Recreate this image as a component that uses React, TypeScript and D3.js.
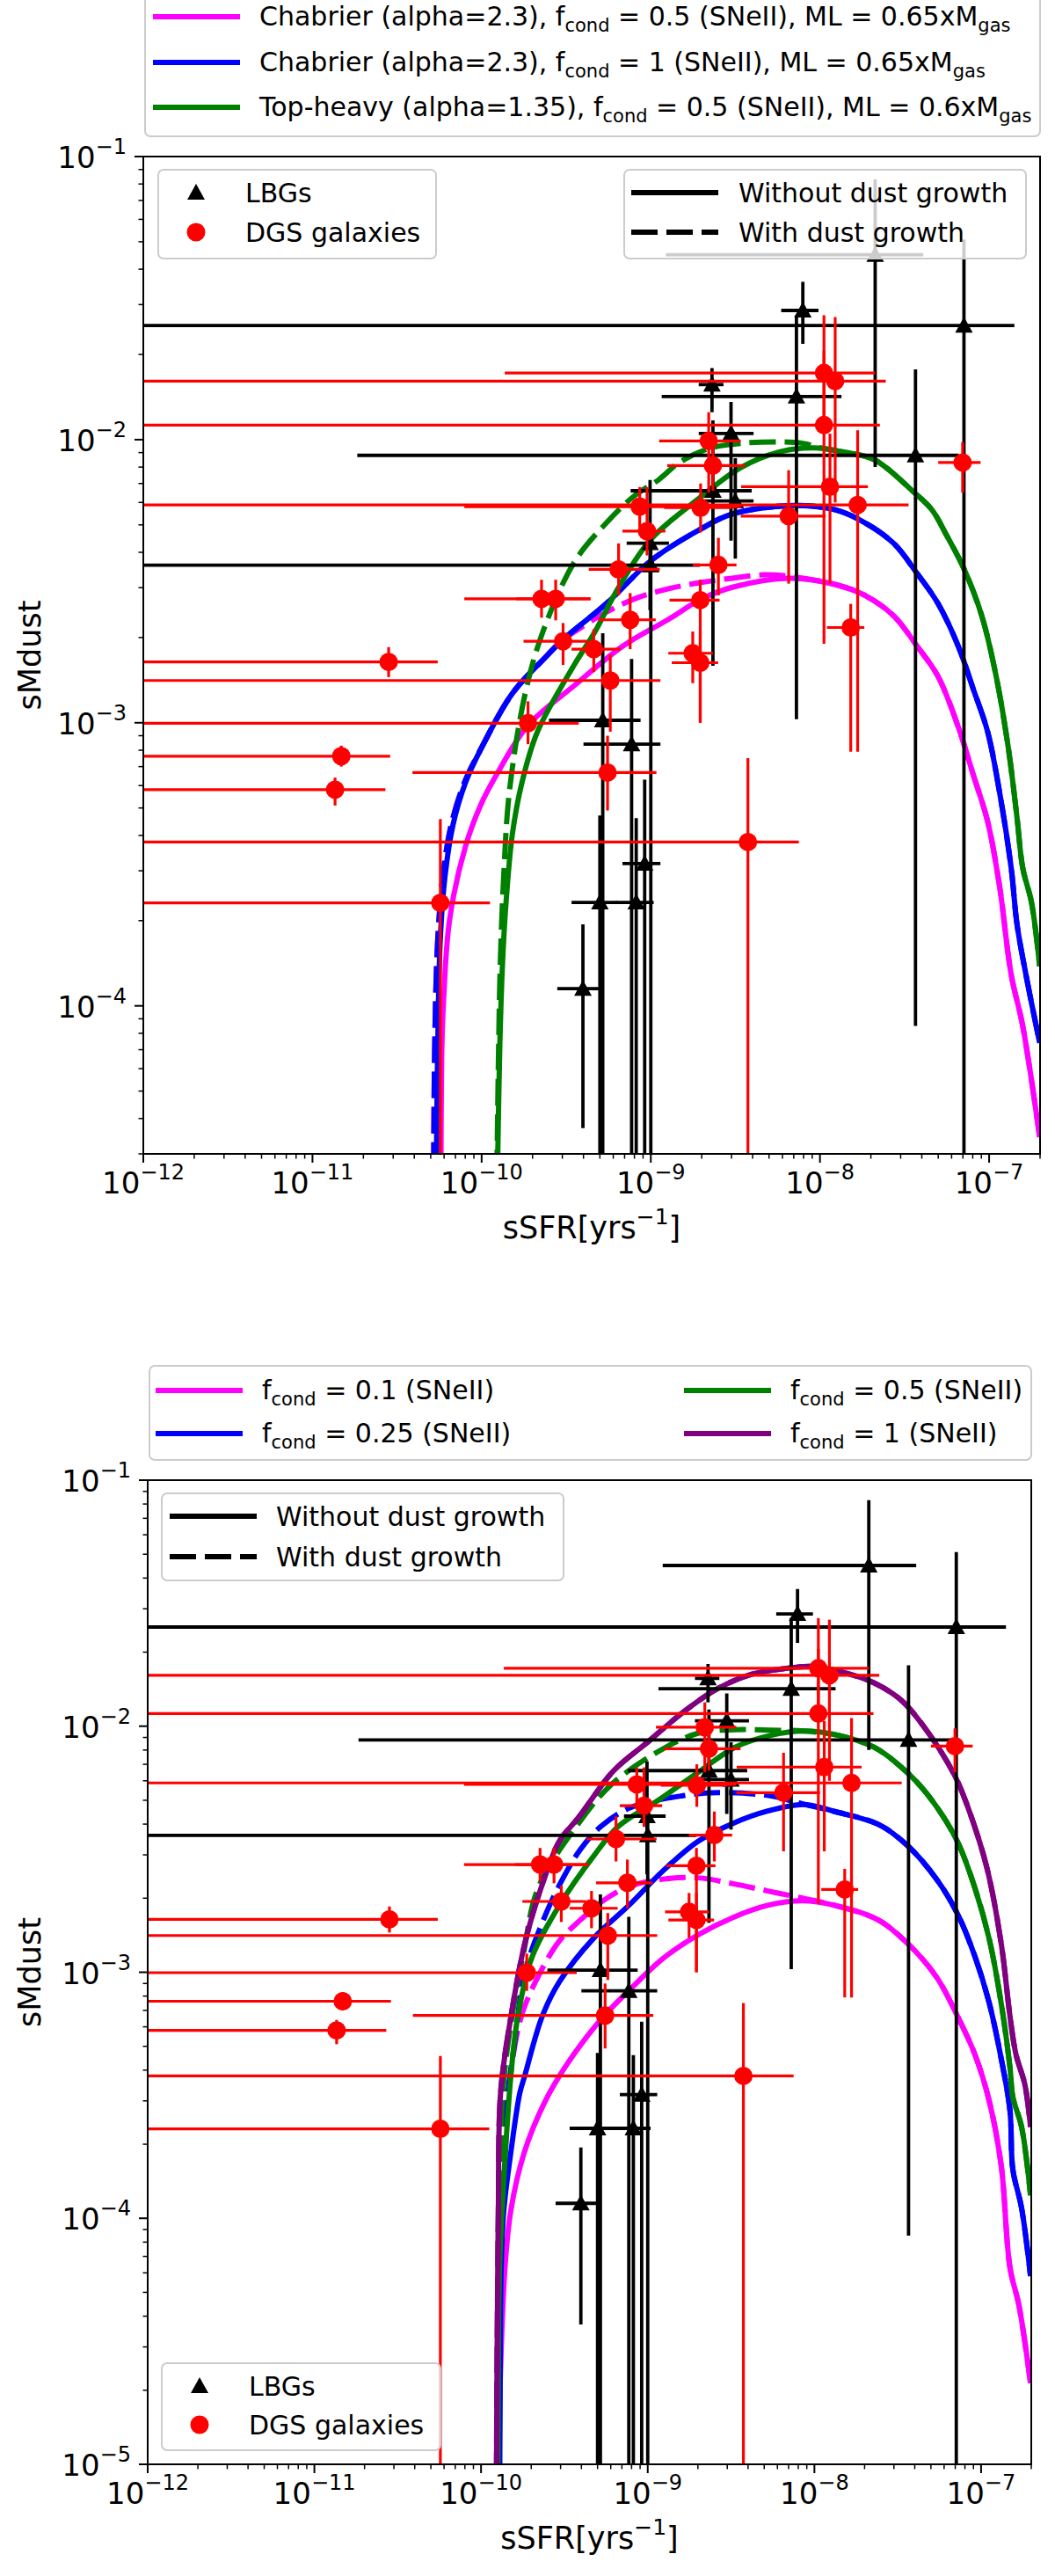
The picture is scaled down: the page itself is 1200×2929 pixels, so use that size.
import React from 'react';
import * as d3 from 'd3';

type Pt = [number, number];

// ---------------- observational data (LBGs) ----------------
const lbgSSFR = [2.12e-8, 7.92e-9, 7.1e-8, 2.3e-9, 7.26e-9, 2.98e-9, 3.67e-8, 2.33e-9, 3.16e-9, 9.9e-10, 1.0e-9, 5.2e-10, 7.7e-10, 9.2e-10, 5.0e-10, 8.2e-10, 3.97e-10];
const lbgSMdust = [0.045, 0.0286, 0.0253, 0.01565, 0.0142, 0.01052, 8.8e-3, 6.6e-3, 6.07e-3, 4.31e-3, 3.6e-3, 1.02e-3, 8.4e-4, 3.18e-4, 2.32e-4, 2.32e-4, 1.15e-4];
const lbgSSFRLow = [1.23e-9, 5.9e-9, 1e-13, 1.92e-9, 1.16e-9, 1.92e-9, 1.84e-11, 7.6e-10, 1.97e-9, 7.2e-10, 1e-13, 2.5e-10, 4.0e-10, 6.8e-10, 3.4e-10, 6.2e-10, 2.8e-10];
const lbgSSFRHigh = [4.08e-8, 9.8e-9, 1.41e-7, 2.69e-9, 1.34e-8, 4.05e-9, 6.6e-8, 3.95e-9, 4.05e-9, 1.28e-9, 1.95e-9, 8.7e-10, 1.14e-9, 1.14e-9, 6.35e-10, 1.04e-9, 5.1e-10];
const lbgSMdustLow = [8.0e-3, 0.0218, 1e-7, 0.0125, 1.03e-3, 4.4e-3, 8.5e-5, 1.59e-3, 3.8e-3, 2.5e-3, 1e-7, 1e-7, 1e-7, 1e-7, 1e-7, 1e-7, 3.7e-5];
const lbgSMdustHigh = [0.083, 0.0361, 0.051, 0.0179, 0.0275, 0.0136, 0.0177, 0.0117, 8.6e-3, 7.2e-3, 5.0e-3, 2.07e-3, 1.68e-3, 6.3e-4, 4.7e-4, 4.6e-4, 1.94e-4];

// ---------------- observational data (DGS galaxies) ----------------
const dgsSSFR = [1.056e-8, 1.23e-8, 1.056e-8, 2.2e-9, 2.33e-9, 1.146e-8, 1.67e-8, 1.97e-9, 6.53e-9, 6.97e-8, 9.5e-10, 6.45e-10, 2.51e-9, 2.26e-10, 2.74e-10, 1.96e-9, 7.55e-10, 1.52e-8, 3.03e-10, 4.6e-10, 1.77e-9, 1.96e-9, 2.82e-11, 5.76e-10, 1.88e-10, 1.48e-11, 5.55e-10, 1.36e-11, 3.75e-9, 5.7e-11, 8.6e-10];
const dgsSMdust = [0.0172, 0.0161, 0.01126, 9.9e-3, 8.1e-3, 6.82e-3, 5.88e-3, 5.75e-3, 5.37e-3, 8.3e-3, 4.75e-3, 3.48e-3, 3.61e-3, 2.74e-3, 2.74e-3, 2.71e-3, 2.31e-3, 2.17e-3, 1.94e-3, 1.82e-3, 1.76e-3, 1.63e-3, 1.64e-3, 1.41e-3, 9.96e-4, 7.62e-4, 6.67e-4, 5.8e-4, 3.79e-4, 2.31e-4, 5.8e-3];
const dgsSSFRLow = [1.37e-10, 1e-13, 1e-13, 1.12e-9, 1.25e-9, 3.42e-9, 1e-13, 1.2e-9, 3.4e-9, 5.0e-8, 6.8e-10, 4.3e-10, 1.77e-9, 7.9e-11, 1.6e-10, 1.29e-9, 4.9e-10, 1.1e-8, 1.77e-10, 3.4e-10, 1.27e-9, 1.33e-9, 1e-13, 1e-13, 1e-13, 1e-13, 3.9e-11, 1e-13, 1e-13, 1e-13, 7.9e-11];
const dgsSSFRHigh = [2.12e-8, 2.45e-8, 2.26e-8, 3.4e-9, 3.6e-9, 1.92e-8, 3.34e-8, 3.0e-9, 1.08e-8, 8.9e-8, 1.22e-9, 1.13e-9, 3.21e-9, 4.4e-10, 4.4e-10, 2.55e-9, 1.07e-9, 1.83e-8, 4.25e-10, 6.6e-10, 2.33e-9, 2.5e-9, 5.5e-11, 1.14e-9, 3.75e-10, 2.88e-11, 1.08e-9, 2.7e-11, 7.5e-9, 1.12e-10, 3.4e-9];
const dgsSMdustLow = [0.0105, 6.0e-3, 1.9e-3, 6.5e-3, 6.6e-3, 3.1e-3, 7.9e-4, 4.7e-3, 3.1e-3, 6.5e-3, 3.9e-3, 2.82e-3, 2.82e-3, 2.35e-3, 2.3e-3, 1.0e-3, 1.82e-3, 7.9e-4, 1.6e-3, 1.51e-3, 1.38e-3, 1.0e-3, 1.45e-3, 9.3e-4, 8.4e-4, 7.0e-4, 4.9e-4, 5.1e-4, 1e-7, 1e-7, 4.9e-3];
const dgsSMdustHigh = [0.0275, 0.0271, 0.0206, 0.0125, 9.8e-3, 0.0105, 0.0108, 7.0e-3, 7.8e-3, 9.8e-3, 6.8e-3, 4.3e-3, 4.5e-3, 3.2e-3, 3.2e-3, 3.2e-3, 2.87e-3, 2.63e-3, 2.25e-3, 2.14e-3, 2.1e-3, 2.1e-3, 1.85e-3, 1.74e-3, 1.19e-3, 8.3e-4, 9.0e-4, 6.4e-4, 7.5e-4, 4.57e-4, 6.8e-3];

// ---------------- model curves, upper panel ----------------
const topChab05Solid: Pt[] = [
  [5.74e-11, 2.0e-5], [5.82e-11, 7.14e-5], [5.94e-11, 1.01e-4], [6.47e-11, 2.02e-4], [8.02e-11, 3.65e-4],
  [9.93e-11, 5.16e-4], [1.23e-10, 6.58e-4], [1.88e-10, 9.79e-4], [3.57e-10, 1.36e-3], [6.79e-10, 1.86e-3],
  [1.29e-9, 2.33e-3], [1.98e-9, 2.73e-3], [3.03e-9, 3.01e-3], [6.55e-9, 3.24e-3], [1.23e-8, 3.08e-3],
  [1.84e-8, 2.82e-3], [2.74e-8, 2.38e-3], [3.76e-8, 1.86e-3], [4.98e-8, 1.46e-3], [6.58e-8, 9.64e-4],
  [8.04e-8, 6.58e-4], [9.79e-8, 4.49e-4], [1.15e-7, 2.67e-4], [1.35e-7, 1.29e-4], [1.58e-7, 8.49e-5],
  [1.99e-7, 3.44e-5],
];
const topChab05Dashed: Pt[] = [
  [5.2e-11, 2.0e-5], [5.28e-11, 7.14e-5], [5.5e-11, 1.70e-4], [5.9e-11, 2.86e-4], [6.6e-11, 4.34e-4],
  [7.9e-11, 6.14e-4], [9.93e-11, 8.11e-4], [1.52e-10, 1.27e-3], [2.33e-10, 1.68e-3], [3.01e-10, 1.96e-3],
  [3.43e-10, 2.07e-3], [5.48e-10, 2.46e-3], [8.41e-10, 2.77e-3], [1.29e-9, 2.98e-3], [1.98e-9, 3.13e-3],
  [3.03e-9, 3.24e-3], [4.65e-9, 3.33e-3], [6.27e-9, 3.30e-3], [1.23e-8, 3.08e-3], [1.84e-8, 2.82e-3],
  [2.74e-8, 2.38e-3], [3.76e-8, 1.86e-3], [4.98e-8, 1.46e-3], [6.58e-8, 9.64e-4], [8.04e-8, 6.58e-4],
  [9.79e-8, 4.49e-4], [1.15e-7, 2.67e-4], [1.35e-7, 1.29e-4], [1.58e-7, 8.49e-5], [1.99e-7, 3.44e-5],
];
const topChab1Solid: Pt[] = [
  [5.38e-11, 2.0e-5], [5.41e-11, 3.0e-5], [5.5e-11, 7.14e-5], [5.69e-11, 1.70e-4], [6.07e-11, 2.86e-4],
  [6.76e-11, 4.34e-4], [8.02e-11, 6.14e-4], [9.93e-11, 8.11e-4], [1.52e-10, 1.27e-3], [2.33e-10, 1.68e-3],
  [3.01e-10, 1.96e-3], [5.48e-10, 2.64e-3], [9.98e-10, 3.73e-3], [1.98e-9, 4.84e-3], [3.03e-9, 5.46e-3],
  [6.82e-9, 5.85e-3], [1.23e-8, 5.65e-3], [1.84e-8, 5.09e-3], [2.74e-8, 4.29e-3], [3.76e-8, 3.36e-3],
  [4.98e-8, 2.64e-3], [6.58e-8, 1.86e-3], [8.04e-8, 1.32e-3], [9.79e-8, 9.31e-4], [1.15e-7, 5.73e-4],
  [1.35e-7, 3.07e-4], [1.46e-7, 1.95e-4], [1.65e-7, 1.29e-4], [1.99e-7, 7.40e-5],
];
const topChab1Dashed: Pt[] = [
  [5.2e-11, 2.0e-5], [5.28e-11, 7.14e-5], [5.5e-11, 1.70e-4], [5.9e-11, 2.86e-4], [6.6e-11, 4.34e-4],
  [7.9e-11, 6.14e-4], [9.93e-11, 8.11e-4], [1.52e-10, 1.27e-3], [2.33e-10, 1.68e-3], [3.01e-10, 1.96e-3],
  [5.48e-10, 2.64e-3], [9.98e-10, 3.73e-3], [1.98e-9, 4.84e-3], [3.03e-9, 5.46e-3], [6.82e-9, 5.85e-3],
  [1.23e-8, 5.65e-3], [1.84e-8, 5.09e-3], [2.74e-8, 4.29e-3], [3.76e-8, 3.36e-3], [4.98e-8, 2.64e-3],
  [6.58e-8, 1.86e-3], [8.04e-8, 1.32e-3], [9.79e-8, 9.31e-4], [1.15e-7, 5.73e-4], [1.35e-7, 3.07e-4],
  [1.46e-7, 1.95e-4], [1.65e-7, 1.29e-4], [1.99e-7, 7.40e-5],
];
const topTopHeavySolid: Pt[] = [
  [1.24e-10, 2.51e-5], [1.28e-10, 7.14e-5], [1.33e-10, 1.43e-4], [1.40e-10, 2.40e-4], [1.52e-10, 4.05e-4],
  [1.73e-10, 6.14e-4], [2.14e-10, 9.31e-4], [3.57e-10, 1.62e-3], [4.62e-10, 2.07e-3], [6.50e-10, 3.03e-3],
  [9.98e-10, 4.44e-3], [1.98e-9, 6.28e-3], [3.37e-9, 7.94e-3], [5.62e-9, 9.02e-3], [9.20e-9, 9.35e-3],
  [1.41e-8, 9.02e-3], [2.10e-8, 8.49e-3], [3.61e-8, 6.50e-3], [4.59e-8, 5.65e-3], [5.61e-8, 4.59e-3],
  [7.13e-8, 3.48e-3], [9.06e-8, 2.38e-3], [1.10e-7, 1.46e-3], [1.30e-7, 8.11e-4], [1.46e-7, 4.65e-4],
  [1.58e-7, 3.07e-4], [1.78e-7, 2.32e-4], [1.99e-7, 1.38e-4],
];
const topTopHeavyDashed: Pt[] = [
  [1.23e-10, 2.51e-5], [1.26e-10, 7.14e-5], [1.29e-10, 1.43e-4], [1.35e-10, 2.86e-4], [1.46e-10, 5.73e-4],
  [1.81e-10, 1.27e-3], [2.33e-10, 2.14e-3], [3.57e-10, 3.73e-3], [5.48e-10, 5.09e-3], [7.94e-10, 6.31e-3],
  [1.12e-9, 7.24e-3], [1.48e-9, 8.32e-3], [2.24e-9, 9.33e-3], [3.55e-9, 9.72e-3], [5.62e-9, 9.82e-3],
  [7.94e-9, 9.70e-3], [1.01e-8, 9.35e-3], [1.41e-8, 9.02e-3], [2.10e-8, 8.49e-3], [3.61e-8, 6.50e-3],
  [4.59e-8, 5.65e-3], [5.61e-8, 4.59e-3], [7.13e-8, 3.48e-3], [9.06e-8, 2.38e-3], [1.10e-7, 1.46e-3],
  [1.30e-7, 8.11e-4], [1.46e-7, 4.65e-4], [1.58e-7, 3.07e-4], [1.78e-7, 2.32e-4], [1.99e-7, 1.38e-4],
];

// ---------------- model curves, lower panel ----------------
const botF01Solid: Pt[] = [
  [1.26e-10, 6.31e-6], [1.30e-10, 2.07e-5], [1.39e-10, 6.22e-5], [1.51e-10, 1.08e-4], [1.82e-10, 1.86e-4],
  [2.40e-10, 2.95e-4], [3.16e-10, 4.07e-4], [4.34e-10, 5.50e-4], [5.51e-10, 6.68e-4], [7.71e-10, 8.43e-4],
  [1.24e-9, 1.14e-3], [2.01e-9, 1.42e-3], [3.25e-9, 1.67e-3], [5.25e-9, 1.87e-3], [8.47e-9, 1.95e-3],
  [1.32e-8, 1.87e-3], [2.42e-8, 1.63e-3], [3.62e-8, 1.31e-3], [5.43e-8, 9.51e-4], [7.21e-8, 6.64e-4],
  [9.18e-8, 4.63e-4], [1.12e-7, 2.99e-4], [1.32e-7, 1.64e-4], [1.49e-7, 6.31e-5], [1.69e-7, 4.40e-5],
  [1.98e-7, 2.14e-5],
];
const botF01Dashed: Pt[] = [
  [1.26e-10, 6.31e-6], [1.27e-10, 2.51e-5], [1.30e-10, 6.22e-5], [1.35e-10, 1.08e-4], [1.40e-10, 1.86e-4],
  [1.46e-10, 3.24e-4], [1.74e-10, 6.58e-4], [2.21e-10, 9.66e-4], [2.95e-10, 1.34e-3], [3.94e-10, 1.63e-3],
  [5.51e-10, 1.97e-3], [7.71e-10, 2.23e-3], [1.24e-9, 2.39e-3], [2.01e-9, 2.42e-3], [3.25e-9, 2.29e-3],
  [5.25e-9, 2.14e-3], [8.47e-9, 2.00e-3], [1.32e-8, 1.87e-3], [2.42e-8, 1.63e-3], [3.62e-8, 1.31e-3],
  [5.43e-8, 9.51e-4], [7.21e-8, 6.64e-4], [9.18e-8, 4.63e-4], [1.12e-7, 2.99e-4], [1.32e-7, 1.64e-4],
  [1.49e-7, 6.31e-5], [1.69e-7, 4.40e-5], [1.98e-7, 2.14e-5],
];
const botF025Solid: Pt[] = [
  [1.29e-10, 6.31e-6], [1.30e-10, 1.58e-5], [1.32e-10, 6.22e-5], [1.37e-10, 1.08e-4], [1.51e-10, 1.86e-4],
  [1.71e-10, 3.24e-4], [1.83e-10, 3.80e-4], [2.32e-10, 6.58e-4], [2.95e-10, 9.14e-4], [4.76e-10, 1.38e-3],
  [7.71e-10, 1.87e-3], [1.24e-9, 2.59e-3], [2.01e-9, 3.41e-3], [3.25e-9, 4.03e-3], [5.25e-9, 4.52e-3],
  [8.71e-9, 4.81e-3], [1.32e-8, 4.50e-3], [2.42e-8, 3.99e-3], [3.62e-8, 3.27e-3], [5.43e-8, 2.38e-3],
  [7.21e-8, 1.73e-3], [9.18e-8, 1.16e-3], [1.12e-7, 7.48e-4], [1.32e-7, 4.46e-4], [1.49e-7, 2.75e-4],
  [1.55e-7, 1.58e-4], [1.75e-7, 1.10e-4], [1.98e-7, 5.82e-5],
];
const botF025Dashed: Pt[] = [
  [1.26e-10, 6.31e-6], [1.27e-10, 2.51e-5], [1.29e-10, 6.22e-5], [1.33e-10, 1.08e-4], [1.37e-10, 1.86e-4],
  [1.45e-10, 3.24e-4], [1.58e-10, 5.01e-4], [1.83e-10, 9.93e-4], [2.32e-10, 1.58e-3], [2.95e-10, 2.26e-3],
  [3.94e-10, 3.15e-3], [5.25e-10, 3.92e-3], [7.94e-10, 4.68e-3], [1.63e-9, 5.22e-3], [2.62e-9, 5.37e-3],
  [5.40e-9, 5.22e-3], [7.55e-9, 4.94e-3], [8.71e-9, 4.81e-3], [1.32e-8, 4.50e-3], [2.42e-8, 3.99e-3],
  [3.62e-8, 3.27e-3], [5.43e-8, 2.38e-3], [7.21e-8, 1.73e-3], [9.18e-8, 1.16e-3], [1.12e-7, 7.48e-4],
  [1.32e-7, 4.46e-4], [1.49e-7, 2.75e-4], [1.55e-7, 1.58e-4], [1.75e-7, 1.10e-4], [1.98e-7, 5.82e-5],
];
const botF05Solid: Pt[] = [
  [1.26e-10, 6.31e-6], [1.27e-10, 2.51e-5], [1.29e-10, 6.22e-5], [1.38e-10, 1.58e-4], [1.51e-10, 3.80e-4],
  [1.66e-10, 6.58e-4], [2.01e-10, 1.14e-3], [2.95e-10, 1.87e-3], [4.76e-10, 2.98e-3], [6.67e-10, 3.92e-3],
  [1.16e-9, 5.01e-3], [2.07e-9, 6.59e-3], [3.34e-9, 8.21e-3], [5.40e-9, 9.16e-3], [8.71e-9, 9.55e-3],
  [1.41e-8, 9.16e-3], [2.28e-8, 8.21e-3], [3.67e-8, 6.41e-3], [5.21e-8, 4.88e-3], [7.21e-8, 3.40e-3],
  [9.18e-8, 2.20e-3], [1.12e-7, 1.36e-3], [1.32e-7, 7.48e-4], [1.49e-7, 4.11e-4], [1.55e-7, 3.11e-4],
  [1.75e-7, 2.35e-4], [1.98e-7, 1.24e-4],
];
const botF05Dashed: Pt[] = [
  [1.24e-10, 6.31e-6], [1.26e-10, 2.51e-5], [1.28e-10, 6.22e-5], [1.31e-10, 1.58e-4], [1.35e-10, 3.24e-4],
  [1.50e-10, 6.0e-4], [1.80e-10, 1.2e-3], [2.20e-10, 2.2e-3], [3.85e-10, 4.03e-3], [6.24e-10, 5.90e-3],
  [1.28e-9, 8.20e-3], [2.07e-9, 9.42e-3], [3.34e-9, 9.68e-3], [5.40e-9, 9.64e-3], [8.71e-9, 9.55e-3],
  [1.41e-8, 9.16e-3], [2.28e-8, 8.21e-3], [3.67e-8, 6.41e-3], [5.21e-8, 4.88e-3], [7.21e-8, 3.40e-3],
  [9.18e-8, 2.20e-3], [1.12e-7, 1.36e-3], [1.32e-7, 7.48e-4], [1.49e-7, 4.11e-4], [1.55e-7, 3.11e-4],
  [1.75e-7, 2.35e-4], [1.98e-7, 1.24e-4],
];
const botF1Solid: Pt[] = [
  [1.235e-10, 6.31e-6], [1.245e-10, 2.07e-5], [1.26e-10, 6.22e-5], [1.27e-10, 1.08e-4], [1.31e-10, 3.24e-4],
  [1.51e-10, 6.58e-4], [1.83e-10, 1.31e-3], [2.32e-10, 2.26e-3], [2.95e-10, 3.41e-3], [3.85e-10, 4.26e-3],
  [6.24e-10, 6.59e-3], [1.01e-9, 8.67e-3], [1.63e-9, 0.0114], [2.62e-9, 0.0142], [4.25e-9, 0.0163],
  [6.85e-9, 0.0172], [9.59e-9, 0.0175], [1.41e-8, 0.0167], [2.28e-8, 0.0150], [3.34e-8, 0.0127],
  [4.68e-8, 9.68e-3], [6.86e-8, 6.41e-3], [8.15e-8, 4.88e-3], [1.08e-7, 2.68e-3], [1.32e-7, 1.31e-3],
  [1.49e-7, 6.64e-4], [1.62e-7, 4.63e-4], [1.83e-7, 3.50e-4], [1.98e-7, 2.35e-4],
];
const botF1Dashed: Pt[] = botF1Solid;

// ---------------- axis ticks & labels ----------------
const xTickExponents = [-12, -11, -10, -9, -8, -7];
const topYTickExponents = [-1, -2, -3, -4];
const botYTickExponents = [-1, -2, -3, -4, -5];
const xLabelMain = 'sSFR[yrs';
const yLabel = 'sMdust';

const MAGENTA = '#ff00ff';
const BLUE = '#0000ff';
const GREEN = '#008000';
const PURPLE = '#800080';
const RED = '#ff0000';

const topModelLegend = [
  { color: MAGENTA, pre: 'Chabrier (alpha=2.3), f', mid: ' = 0.5 (SNeII), ML = 0.65xM' },
  { color: BLUE, pre: 'Chabrier (alpha=2.3), f', mid: ' = 1 (SNeII), ML = 0.65xM' },
  { color: GREEN, pre: 'Top-heavy (alpha=1.35), f', mid: ' = 0.5 (SNeII), ML = 0.6xM' },
];
const botModelLegend = [
  { color: MAGENTA, value: '0.1' },
  { color: BLUE, value: '0.25' },
  { color: GREEN, value: '0.5' },
  { color: PURPLE, value: '1' },
];

const FONT = "'DejaVu Sans', 'Liberation Sans', sans-serif";
const X_DOMAIN: [number, number] = [1e-12, 2e-7];
const LW = 6;
const DASH = '30 10';

type Box = { id: string; left: number; right: number; top: number; bottom: number; yDomain: [number, number]; yTicks: number[] };

const topBox: Box = { id: 'top', left: 163, right: 1183, top: 178, bottom: 1312, yDomain: [3e-5, 0.1], yTicks: topYTickExponents };
const botBox: Box = { id: 'bot', left: 168, right: 1173, top: 1683, bottom: 2802, yDomain: [1e-5, 0.1], yTicks: botYTickExponents };

function PowText({ x, y, exp, anchor }: { x: number; y: number; exp: number; anchor: string }) {
  return (
    <text x={x} y={y} textAnchor={anchor} fontSize={34} fontFamily={FONT} fill="#000">
      <tspan>10</tspan>
      <tspan dy={-16} fontSize={24}>{'\u2212' + Math.abs(exp)}</tspan>
    </text>
  );
}

function triPath(cx: number, cy: number) {
  return `M${cx},${cy - 10} L${cx + 10},${cy + 8} L${cx - 10},${cy + 8} Z`;
}

function isMinor(v: number) {
  const m = v / Math.pow(10, Math.floor(Math.log10(v) + 1e-9));
  return Math.abs(m - 1) > 1e-6 && Math.abs(m - 10) > 1e-6;
}

function Panel({ box, curves }: { box: Box; curves: { data: Pt[]; color: string; dashed: boolean }[] }) {
  const xs = d3.scaleLog().domain(X_DOMAIN).range([box.left, box.right]);
  const ys = d3.scaleLog().domain(box.yDomain).range([box.bottom, box.top]);
  const line = d3
    .line<Pt>()
    .x((d) => xs(d[0]))
    .y((d) => ys(d[1]))
    .curve(d3.curveCatmullRom.alpha(0.5));
  const clipId = `clip-${box.id}`;
  const xMinor = xs.ticks().filter(isMinor);
  const yMinor = ys.ticks().filter(isMinor);
  const cx = (box.left + box.right) / 2;
  const cy = (box.top + box.bottom) / 2;
  return (
    <g>
      <defs>
        <clipPath id={clipId}>
          <rect x={box.left} y={box.top} width={box.right - box.left} height={box.bottom - box.top} />
        </clipPath>
      </defs>
      <g clipPath={`url(#${clipId})`}>
        {curves.map((c, i) => (
          <path key={i} d={line(c.data) || ''} fill="none" stroke={c.color} strokeWidth={LW}
            strokeDasharray={c.dashed ? DASH : undefined} />
        ))}
        <g stroke="#000" strokeWidth={3.8}>
          {lbgSSFR.map((x, i) => (
            <g key={i}>
              <line x1={xs(lbgSSFRLow[i])} x2={xs(lbgSSFRHigh[i])} y1={ys(lbgSMdust[i])} y2={ys(lbgSMdust[i])} />
              <line x1={xs(x)} x2={xs(x)} y1={ys(lbgSMdustLow[i])} y2={ys(lbgSMdustHigh[i])} />
            </g>
          ))}
        </g>
        {lbgSSFR.map((x, i) => (
          <path key={i} d={triPath(xs(x), ys(lbgSMdust[i]))} fill="#000" />
        ))}
        <g stroke={RED} strokeWidth={3.2}>
          {dgsSSFR.map((x, i) => (
            <g key={i}>
              <line x1={xs(dgsSSFRLow[i])} x2={xs(dgsSSFRHigh[i])} y1={ys(dgsSMdust[i])} y2={ys(dgsSMdust[i])} />
              <line x1={xs(x)} x2={xs(x)} y1={ys(dgsSMdustLow[i])} y2={ys(dgsSMdustHigh[i])} />
            </g>
          ))}
        </g>
        {dgsSSFR.map((x, i) => (
          <circle key={i} cx={xs(x)} cy={ys(dgsSMdust[i])} r={10.5} fill={RED} />
        ))}
      </g>
      <rect x={box.left} y={box.top} width={box.right - box.left} height={box.bottom - box.top}
        fill="none" stroke="#000" strokeWidth={2} />
      {xTickExponents.map((e) => {
        const px = xs(Math.pow(10, e));
        return (
          <g key={e}>
            <line x1={px} x2={px} y1={box.bottom} y2={box.bottom + 10} stroke="#000" strokeWidth={2} />
            <PowText x={px} y={box.bottom + 45} exp={e} anchor="middle" />
          </g>
        );
      })}
      {xMinor.map((v, i) => (
        <line key={i} x1={xs(v)} x2={xs(v)} y1={box.bottom} y2={box.bottom + 5.5} stroke="#000" strokeWidth={1.5} />
      ))}
      {box.yTicks.map((e) => {
        const py = ys(Math.pow(10, e));
        return (
          <g key={e}>
            <line x1={box.left - 10} x2={box.left} y1={py} y2={py} stroke="#000" strokeWidth={2} />
            <PowText x={box.left - 19} y={py + 13} exp={e} anchor="end" />
          </g>
        );
      })}
      {yMinor.map((v, i) => (
        <line key={i} x1={box.left - 5.5} x2={box.left} y1={ys(v)} y2={ys(v)} stroke="#000" strokeWidth={1.5} />
      ))}
      <text x={cx} y={box.bottom + 96} textAnchor="middle" fontSize={35} fontFamily={FONT}>
        {xLabelMain}
        <tspan dy={-16} fontSize={25}>{'\u22121'}</tspan>
        <tspan dy={16}>]</tspan>
      </text>
      <text transform={`translate(46,${cy}) rotate(-90)`} textAnchor="middle" fontSize={35} fontFamily={FONT}>
        {yLabel}
      </text>
    </g>
  );
}

function LegendFrame({ x, y, w, h }: { x: number; y: number; w: number; h: number }) {
  return <rect x={x} y={y} width={w} height={h} rx={6} ry={6} fill="#fff" fillOpacity={0.8} stroke="#cccccc" strokeWidth={2} />;
}

function MarkerLegend({ x, y, w, h, r1, r2, mx, tx }: { x: number; y: number; w: number; h: number; r1: number; r2: number; mx: number; tx: number }) {
  return (
    <g>
      <LegendFrame x={x} y={y} w={w} h={h} />
      <path d={triPath(mx, r1)} fill="#000" />
      <text x={tx} y={r1 + 11} fontSize={30} fontFamily={FONT}>LBGs</text>
      <circle cx={mx} cy={r2} r={10.5} fill={RED} />
      <text x={tx} y={r2 + 11} fontSize={30} fontFamily={FONT}>DGS galaxies</text>
    </g>
  );
}

function StyleLegend({ x, y, w, h, r1, r2, hx, tx }: { x: number; y: number; w: number; h: number; r1: number; r2: number; hx: number; tx: number }) {
  return (
    <g>
      <LegendFrame x={x} y={y} w={w} h={h} />
      <line x1={hx} x2={hx + 99} y1={r1} y2={r1} stroke="#000" strokeWidth={LW} />
      <text x={tx} y={r1 + 11} fontSize={30} fontFamily={FONT}>Without dust growth</text>
      <line x1={hx} x2={hx + 99} y1={r2} y2={r2} stroke="#000" strokeWidth={LW} strokeDasharray={DASH} />
      <text x={tx} y={r2 + 11} fontSize={30} fontFamily={FONT}>With dust growth</text>
    </g>
  );
}

function FcondText({ x, y, pre, mid, tail }: { x: number; y: number; pre: string; mid: string; tail?: string }) {
  return (
    <text x={x} y={y} fontSize={30} fontFamily={FONT}>
      {pre}
      <tspan dy={7} fontSize={21}>cond</tspan>
      <tspan dy={-7}>{mid}</tspan>
      {tail ? <tspan dy={7} fontSize={21}>{tail}</tspan> : null}
    </text>
  );
}

export default function App() {
  const topCurves = [
    { data: topChab05Solid, color: MAGENTA, dashed: false },
    { data: topChab05Dashed, color: MAGENTA, dashed: true },
    { data: topChab1Solid, color: BLUE, dashed: false },
    { data: topChab1Dashed, color: BLUE, dashed: true },
    { data: topTopHeavySolid, color: GREEN, dashed: false },
    { data: topTopHeavyDashed, color: GREEN, dashed: true },
  ];
  const botCurves = [
    { data: botF01Solid, color: MAGENTA, dashed: false },
    { data: botF01Dashed, color: MAGENTA, dashed: true },
    { data: botF025Solid, color: BLUE, dashed: false },
    { data: botF025Dashed, color: BLUE, dashed: true },
    { data: botF05Solid, color: GREEN, dashed: false },
    { data: botF05Dashed, color: GREEN, dashed: true },
    { data: botF1Solid, color: PURPLE, dashed: false },
    { data: botF1Dashed, color: PURPLE, dashed: true },
  ];
  const topRows = [19, 71, 122];
  const botRows = [1581, 1630];
  return (
    <div style={{ position: 'absolute', left: 0, top: 0 }}>
      <svg width={1200} height={2929} viewBox="0 0 1200 2929" style={{ display: 'block', background: '#fff' }}>
        <rect x={0} y={0} width={1200} height={2929} fill="#fff" />
        <LegendFrame x={165} y={-12} w={1018} h={167} />
        {topModelLegend.map((m, i) => (
          <g key={i}>
            <line x1={174} x2={273} y1={topRows[i]} y2={topRows[i]} stroke={m.color} strokeWidth={LW} />
            <FcondText x={295} y={topRows[i] + 10} pre={m.pre} mid={m.mid} tail="gas" />
          </g>
        ))}
        <Panel box={topBox} curves={topCurves} />
        <MarkerLegend x={180} y={193} w={316} h={101} r1={219} r2={264} mx={223} tx={279} />
        <StyleLegend x={710} y={193} w={457} h={101} r1={219} r2={264} hx={718} tx={840} />

        <LegendFrame x={170} y={1553} w={1003} h={107} />
        {botModelLegend.map((m, i) => {
          const col = Math.floor(i / 2);
          const row = i % 2;
          const hx = col === 0 ? 177 : 778;
          const tx = col === 0 ? 298 : 899;
          return (
            <g key={i}>
              <line x1={hx} x2={hx + 99} y1={botRows[row]} y2={botRows[row]} stroke={m.color} strokeWidth={LW} />
              <FcondText x={tx} y={botRows[row] + 10} pre="f" mid={` = ${m.value} (SNeII)`} />
            </g>
          );
        })}
        <Panel box={botBox} curves={botCurves} />
        <StyleLegend x={184} y={1698} w={457} h={99} r1={1724} r2={1770} hx={193} tx={314} />
        <MarkerLegend x={184} y={2687} w={317} h={99} r1={2713} r2={2757} mx={227} tx={283} />
      </svg>
    </div>
  );
}
